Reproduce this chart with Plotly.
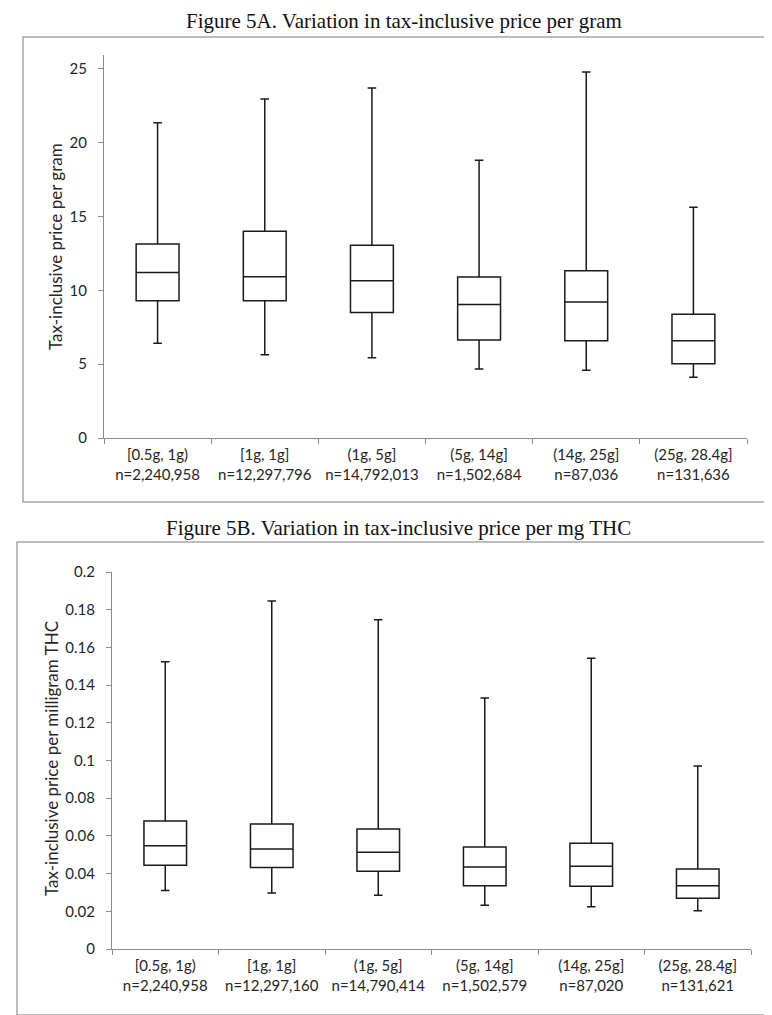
import plotly.graph_objects as go

W, H = 772, 1015

categories_a = ["[0.5g, 1g)<br>n=2,240,958", "[1g, 1g]<br>n=12,297,796", "(1g, 5g]<br>n=14,792,013",
                "(5g, 14g]<br>n=1,502,684", "(14g, 25g]<br>n=87,036", "(25g, 28.4g]<br>n=131,636"]
low_a = [6.41, 5.64, 5.44, 4.67, 4.58, 4.11]
q1_a = [9.30, 9.30, 8.49, 6.64, 6.59, 5.03]
med_a = [11.20, 10.92, 10.65, 9.03, 9.21, 6.59]
q3_a = [13.13, 14.00, 13.05, 10.90, 11.33, 8.37]
high_a = [21.35, 22.95, 23.70, 18.80, 24.78, 15.62]

categories_b = ["[0.5g, 1g)<br>n=2,240,958", "[1g, 1g]<br>n=12,297,160", "(1g, 5g]<br>n=14,790,414",
                "(5g, 14g]<br>n=1,502,579", "(14g, 25g]<br>n=87,020", "(25g, 28.4g]<br>n=131,621"]
low_b = [0.0311, 0.0297, 0.0285, 0.0232, 0.0224, 0.0203]
q1_b = [0.0444, 0.0433, 0.0412, 0.0336, 0.0333, 0.0269]
med_b = [0.0548, 0.0531, 0.0513, 0.0435, 0.0439, 0.0336]
q3_b = [0.0679, 0.0663, 0.0637, 0.0541, 0.0561, 0.0424]
high_b = [0.1524, 0.1846, 0.1747, 0.1332, 0.1542, 0.0971]

yticks_a = [0, 5, 10, 15, 20, 25]
yticks_b = [0, 0.02, 0.04, 0.06, 0.08, 0.1, 0.12, 0.14, 0.16, 0.18, 0.2]
yticktext_b = ["0", "0.02", "0.04", "0.06", "0.08", "0.1", "0.12", "0.14", "0.16", "0.18", "0.2"]


def px(x):
    return x / W


def py(y):
    return 1 - y / H


LINE = "#1a1a1a"
AXIS = "#8c8c8c"
TICKFONT = dict(family="Lato, Open Sans, sans-serif", size=15, color="#262626")

fig = go.Figure()
box_style = dict(
    boxpoints=False,
    fillcolor="white",
    line=dict(color=LINE, width=1.5),
    whiskerwidth=0.2,
    width=0.4,
    hoverinfo="skip",
    showlegend=False,
)
fig.add_trace(go.Box(x=categories_a, q1=q1_a, median=med_a, q3=q3_a,
                     lowerfence=low_a, upperfence=high_a, xaxis="x", yaxis="y", **box_style))
fig.add_trace(go.Box(x=categories_b, q1=q1_b, median=med_b, q3=q3_b,
                     lowerfence=low_b, upperfence=high_b, xaxis="x2", yaxis="y2", **box_style))

xaxis_common = dict(
    type="category", range=[-0.5, 5.5], showline=True, linecolor=AXIS, linewidth=1.2,
    ticks="outside", tickson="boundaries", ticklen=5, tickcolor=AXIS, tickwidth=1,
    showgrid=False, zeroline=False, tickfont=TICKFONT, automargin=False, fixedrange=True,
    ticklabelstandoff=3,
)
yaxis_common = dict(
    showline=True, linecolor=AXIS, linewidth=1.2, ticks="outside", ticklen=5,
    tickcolor=AXIS, tickwidth=1, showgrid=False, zeroline=False, tickfont=TICKFONT,
    automargin=False, ticklabelstandoff=8, fixedrange=True,
)

fig.update_layout(
    width=W, height=H,
    margin=dict(l=0, r=0, t=0, b=0),
    paper_bgcolor="white", plot_bgcolor="white",
    xaxis=dict(domain=[px(96), px(739)], anchor="y", **xaxis_common),
    yaxis=dict(domain=[py(430), py(47)], anchor="x", range=[0, 25.93],
               tickvals=yticks_a, **yaxis_common),
    xaxis2=dict(domain=[px(104), px(743)], anchor="y2", **xaxis_common),
    yaxis2=dict(domain=[py(941), py(564)], anchor="x2", range=[0, 0.2],
                tickvals=yticks_b, ticktext=yticktext_b, **yaxis_common),
)

shapes = [
    dict(type="rect", xref="paper", yref="paper", x0=px(15), x1=px(757), y0=py(494), y1=py(29),
         line=dict(color="#a6a6a6", width=1.5), fillcolor="rgba(0,0,0,0)", layer="below"),
    dict(type="rect", xref="paper", yref="paper", x0=px(9), x1=px(766), y0=py(1007), y1=py(534),
         line=dict(color="#a6a6a6", width=1.5), fillcolor="rgba(0,0,0,0)", layer="below"),
]
fig.update_layout(shapes=shapes)

TITLEFONT = dict(family="Liberation Serif, Times New Roman, serif", size=21, color="#111111")
YTFONT = dict(family="Lato, Open Sans, sans-serif", size=17, color="#262626")
annotations = [
    dict(text="Figure 5A. Variation in tax-inclusive price per gram", x=px(396), y=py(13),
         xref="paper", yref="paper", showarrow=False, font=TITLEFONT, xanchor="center", yanchor="middle"),
    dict(text="Figure 5B. Variation in tax-inclusive price per mg THC", x=px(390), y=py(520),
         xref="paper", yref="paper", showarrow=False, font=TITLEFONT, xanchor="center", yanchor="middle"),
    dict(text="Tax-inclusive price per gram", x=px(48), y=py(239), textangle=-90,
         xref="paper", yref="paper", showarrow=False, font=YTFONT, xanchor="center", yanchor="middle"),
    dict(text="Tax-inclusive price per milligram THC", x=px(43), y=py(751), textangle=-90,
         xref="paper", yref="paper", showarrow=False, font=YTFONT, xanchor="center", yanchor="middle"),
]
fig.update_layout(annotations=annotations)

fig.write_html("out.html", config={"displayModeBar": False})
